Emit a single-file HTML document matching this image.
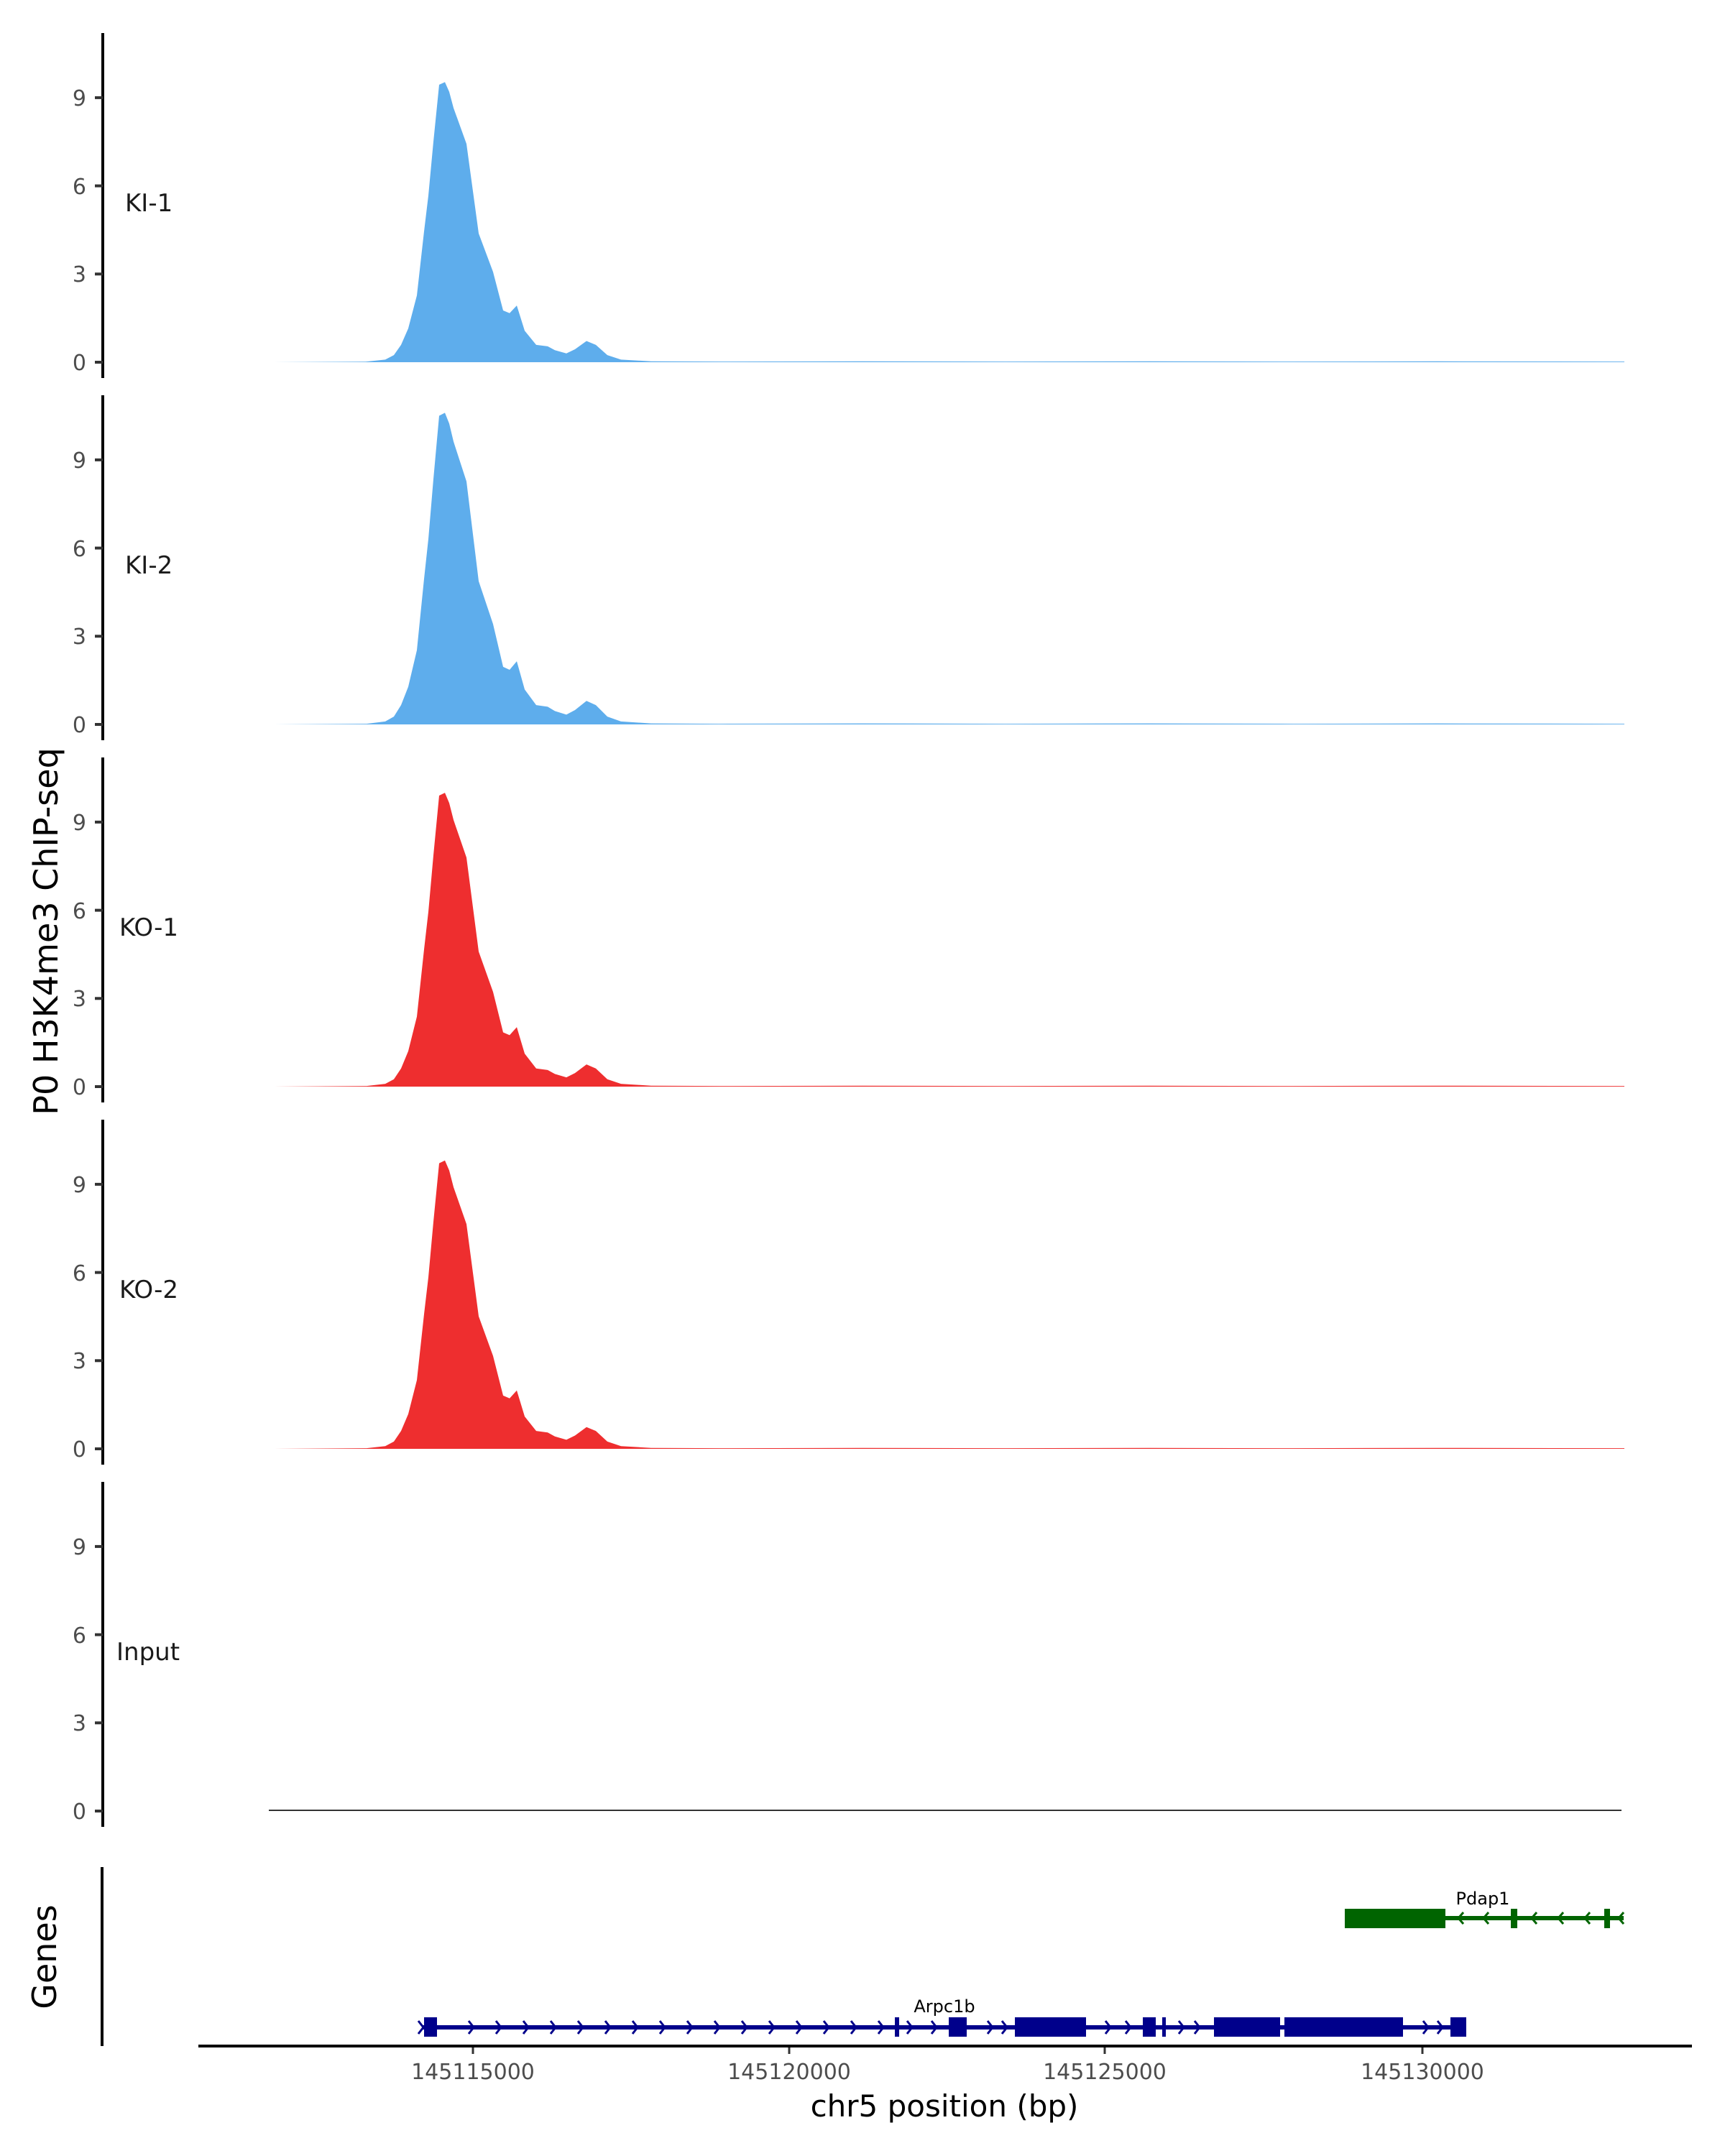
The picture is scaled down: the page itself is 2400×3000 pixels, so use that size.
<!DOCTYPE html>
<html><head><meta charset="utf-8"><style>
html,body{margin:0;padding:0;background:#fff;}
svg{display:block;font-family:"DejaVu Sans","Liberation Sans",sans-serif;}
.tl{font-size:30px;fill:#4d4d4d;text-anchor:end;}
.pl{font-size:34px;fill:#1a1a1a;}
</style></head><body>
<svg width="2400" height="3000" viewBox="0 0 2400 3000" xmlns="http://www.w3.org/2000/svg">
<defs>
<path id="pk" d="M376,0 L510,0.02 L536,0.09 L548,0.24 L558,0.59 L568,1.15 L580,2.27 L590,4.45 L596,5.67 L603,7.5 L611,9.44 L619,9.53 L625,9.2 L631,8.65 L649,7.43 L666,4.38 L686,3.07 L700,1.76 L709,1.67 L719,1.93 L730,1.07 L746,0.59 L762,0.54 L772,0.41 L788,0.30 L800,0.44 L816,0.72 L829,0.59 L845,0.24 L864,0.09 L906,0.03 L1000,0.02 L1200,0.03 L1400,0.02 L1600,0.03 L1800,0.02 L2000,0.03 L2260,0.02 L2260,0 Z"/>
<g id="ax">
<line x1="143" y1="-458" x2="143" y2="22" stroke="#000" stroke-width="4"/>
<g stroke="#333" stroke-width="4"><line x1="132" y1="0" x2="143" y2="0"/><line x1="132" y1="-122.7" x2="143" y2="-122.7"/><line x1="132" y1="-245.4" x2="143" y2="-245.4"/><line x1="132" y1="-368.1" x2="143" y2="-368.1"/></g>
<text class="tl" x="120" y="11">0</text><text class="tl" x="120" y="-112">3</text><text class="tl" x="120" y="-234">6</text><text class="tl" x="120" y="-357">9</text>
</g>
</defs>
<g transform="translate(0,504)">
<use href="#ax"/>
<use href="#pk" fill="#5EADEC" transform="scale(1,-40.9)"/>
<text class="pl" x="174" y="-210">KI-1</text>
</g>
<g transform="translate(0,1008)">
<use href="#ax"/>
<use href="#pk" fill="#5EADEC" transform="scale(1,-45.5)"/>
<text class="pl" x="174" y="-210">KI-2</text>
</g>
<g transform="translate(0,1512)">
<use href="#ax"/>
<use href="#pk" fill="#EE2E2F" transform="scale(1,-42.9)"/>
<text class="pl" x="166" y="-210">KO-1</text>
</g>
<g transform="translate(0,2016)">
<use href="#ax"/>
<use href="#pk" fill="#EE2E2F" transform="scale(1,-42.1)"/>
<text class="pl" x="166" y="-210">KO-2</text>
</g>
<g transform="translate(0,2520)">
<use href="#ax"/>
<rect x="374" y="-2" width="1882" height="2" fill="#333"/>
<text class="pl" x="162" y="-210">Input</text>
</g>
<text x="0" y="0" font-size="46" fill="#000" text-anchor="middle" transform="translate(80,1296) rotate(-90)">P0 H3K4me3 ChIP-seq</text>
<!-- Genes panel -->
<line x1="142" y1="2598" x2="142" y2="2847" stroke="#000" stroke-width="4"/>
<text x="0" y="0" font-size="46" fill="#000" text-anchor="middle" transform="translate(78,2723) rotate(-90)">Genes</text>
<g fill="#006400">
<rect x="1871" y="2666" width="388" height="6"/>
<rect x="1871" y="2656" width="140" height="27"/>
<rect x="2102" y="2656" width="9" height="27"/>
<rect x="2232" y="2656" width="8" height="27"/>
</g>
<g stroke="#006400" stroke-width="3" fill="none">
<path d="M2036,2661 l-7,8 l7,8 M2071,2661 l-7,8 l7,8 M2138,2661 l-7,8 l7,8 M2175,2661 l-7,8 l7,8 M2212,2661 l-7,8 l7,8 M2259,2661 l-7,8 l7,8"/>
</g>
<text x="2063" y="2650" font-size="24" fill="#000" text-anchor="middle">Pdap1</text>
<g fill="#00008B">
<rect x="587" y="2818" width="1453" height="6"/>
<rect x="590" y="2807" width="18" height="27"/>
<rect x="1245" y="2807" width="6" height="27"/>
<rect x="1320" y="2807" width="25" height="27"/>
<rect x="1412" y="2807" width="99" height="27"/>
<rect x="1590" y="2807" width="18" height="27"/>
<rect x="1617" y="2807" width="5" height="27"/>
<rect x="1689" y="2807" width="92" height="27"/>
<rect x="1787" y="2807" width="165" height="27"/>
<rect x="2018" y="2807" width="22" height="27"/>
</g>
<g stroke="#00008B" stroke-width="3" fill="none">
<path d="M582,2812 l7,9 l-7,9 M652,2812 l7,9 l-7,9 M690,2812 l7,9 l-7,9 M728,2812 l7,9 l-7,9 M766,2812 l7,9 l-7,9 M804,2812 l7,9 l-7,9 M842,2812 l7,9 l-7,9 M880,2812 l7,9 l-7,9 M918,2812 l7,9 l-7,9 M956,2812 l7,9 l-7,9 M994,2812 l7,9 l-7,9 M1032,2812 l7,9 l-7,9 M1070,2812 l7,9 l-7,9 M1108,2812 l7,9 l-7,9 M1146,2812 l7,9 l-7,9 M1184,2812 l7,9 l-7,9 M1222,2812 l7,9 l-7,9 M1262,2812 l7,9 l-7,9 M1296,2812 l7,9 l-7,9 M1374,2812 l7,9 l-7,9 M1394,2812 l7,9 l-7,9 M1538,2812 l7,9 l-7,9 M1566,2812 l7,9 l-7,9 M1640,2812 l7,9 l-7,9 M1662,2812 l7,9 l-7,9 M1980,2812 l7,9 l-7,9 M2000,2812 l7,9 l-7,9"/>
</g>
<text x="1314" y="2800" font-size="24" fill="#000" text-anchor="middle">Arpc1b</text>
<line x1="276" y1="2847" x2="2354" y2="2847" stroke="#000" stroke-width="4"/>
<g stroke="#333" stroke-width="3"><line x1="658" y1="2849" x2="658" y2="2858"/><line x1="1098" y1="2849" x2="1098" y2="2858"/><line x1="1537" y1="2849" x2="1537" y2="2858"/><line x1="1979" y1="2849" x2="1979" y2="2858"/></g>
<g font-size="30" fill="#4d4d4d" text-anchor="middle">
<text x="658" y="2893">145115000</text><text x="1098" y="2893">145120000</text><text x="1537" y="2893">145125000</text><text x="1979" y="2893">145130000</text>
</g>
<text x="1314" y="2945" font-size="42" fill="#000" text-anchor="middle">chr5 position (bp)</text>
</svg>
</body></html>
